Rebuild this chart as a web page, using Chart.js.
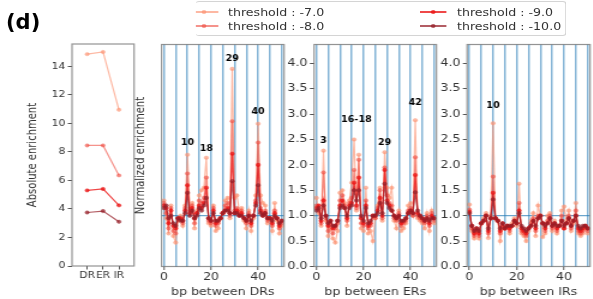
<!DOCTYPE html>
<html><head><meta charset="utf-8">
<script src="https://cdn.jsdelivr.net/npm/chart.js@4.4.1/dist/chart.umd.min.js"></script>
<style>
html,body{margin:0;padding:0;background:#fff;width:593px;height:299px;overflow:hidden;}
#stage{position:absolute;left:0;top:0;width:494px;height:299px;transform:scaleX(1.2);transform-origin:0 0;}
#stage canvas{position:absolute;top:0;}
#tag{position:absolute;left:6px;top:11px;font:bold 21px 'DejaVu Sans';line-height:22px;color:#000;}
#legend{position:absolute;left:163.3px;top:1px;width:308px;height:33px;border:1px solid #d4d4d4;border-left:none;border-radius:3px;background:#fff;font-family:'DejaVu Sans';}
.lg-line{position:absolute;height:1.5px;}
.lg-dot{position:absolute;width:4px;height:4px;border-radius:50%;}
.lg-text{position:absolute;font-size:10.5px;line-height:12px;color:#333;white-space:nowrap;}
</style></head>
<body>
<div id="stage">
  <canvas id="cAbs" width="116" height="299" style="left:0px"></canvas>
  <canvas id="cDR" width="128" height="299" style="left:111px"></canvas>
  <canvas id="cER" width="128" height="299" style="left:238px"></canvas>
  <canvas id="cIR" width="128" height="299" style="left:366px"></canvas>
  <div id="legend"></div>
</div>
<div id="tag">(d)</div>
<script>
// ---------------- data ----------------
const thresholds = ['threshold : -7.0', 'threshold : -8.0', 'threshold : -9.0', 'threshold : -10.0'];
const absCategories = ['DR', 'ER', 'IR'];
const abs_t7  = [14.85, 15.0, 10.95];
const abs_t8  = [8.45, 8.45, 6.35];
const abs_t9  = [5.3, 5.4, 4.25];
const abs_t10 = [3.75, 3.85, 3.1];

const bp = [0,1,2,3,4,5,6,7,8,9,10,11,12,13,14,15,16,17,18,19,20,21,22,23,24,25,26,27,28,29,30,31,32,33,34,35,36,37,38,39,40,41,42,43,44,45,46,47,48,49,50];

const dr_t7  = [1.30,0.95,0.65,1.20,0.60,0.47,0.90,1.00,0.80,1.20, 2.20,1.15,1.25,0.75,1.10,1.40,1.50,1.55,2.14,0.85, 0.80,1.20,0.70,0.75,0.95,1.05,1.30,1.35,0.95,3.89, 1.35,1.40,1.10,1.15,0.90,0.75,1.10,0.70,0.95,1.40, 2.81,1.40,1.25,1.20,0.85,0.95,0.70,1.25,0.90,0.65, 0.80];
const dr_t8  = [1.25,1.05,0.75,1.15,0.70,0.65,0.95,0.95,0.85,1.15, 1.83,1.10,1.20,0.85,1.05,1.30,1.25,1.35,1.75,0.90, 0.85,1.15,0.80,0.85,0.95,1.05,1.20,1.25,1.00,2.86, 1.10,1.15,1.05,1.10,0.95,0.85,1.05,0.80,1.00,1.30, 2.44,1.15,1.05,1.10,0.90,0.95,0.80,1.10,0.95,0.75, 0.85];
const dr_t9  = [1.20,1.15,0.85,1.10,0.80,0.75,0.95,0.95,0.90,1.10, 1.60,1.05,1.15,0.95,1.05,1.20,1.15,1.25,1.55,0.95, 0.90,1.10,0.85,0.90,0.95,1.05,1.10,1.15,1.05,2.22, 1.05,1.10,1.00,1.05,0.95,0.90,1.00,0.85,1.00,1.25, 2.00,1.10,1.00,1.05,0.95,0.95,0.85,1.05,0.95,0.80, 0.90];
const dr_t10 = [1.15,1.20,0.95,1.00,0.85,0.80,0.95,0.90,0.90,1.05, 1.45,1.00,1.10,0.95,1.00,1.15,1.10,1.20,1.35,0.95, 0.90,1.05,0.90,0.90,0.95,1.05,1.10,1.10,1.05,1.68, 1.05,1.05,1.00,1.00,0.95,0.90,1.00,0.90,1.00,1.20, 1.60,1.05,1.00,1.05,0.95,0.95,0.90,1.00,0.95,0.85, 0.90];

const er_t7  = [1.35,1.05,0.80,2.28,0.90,0.60,0.75,0.55,0.47,0.70, 1.45,1.50,1.25,0.80,1.30,1.65,2.50,1.10,2.20,0.75, 0.70,1.55,0.65,0.70,0.50,0.95,1.20,1.55,0.90,2.25, 1.55,1.35,1.55,0.90,0.75,1.10,0.70,0.75,0.85,1.20, 1.25,1.00,2.88,0.95,0.90,0.85,0.75,1.05,0.70,1.10, 0.85];
const er_t8  = [1.20,1.10,0.85,1.85,0.95,0.70,0.85,0.65,0.75,0.85, 1.30,1.40,1.20,0.90,1.25,1.35,1.90,1.15,2.10,0.85, 0.80,1.30,0.75,0.80,1.00,0.95,1.15,1.50,0.95,1.95, 1.40,1.25,1.20,0.95,0.90,1.05,0.80,0.85,0.90,1.10, 1.15,1.00,2.15,1.00,0.95,0.90,0.85,1.00,0.80,1.05, 0.90];
const er_t9  = [1.15,1.20,0.90,1.30,1.00,0.80,0.90,0.75,0.80,0.90, 1.20,1.30,1.15,0.95,1.20,1.25,1.65,1.20,1.75,0.95, 0.85,1.20,0.80,0.85,1.00,1.00,1.10,1.35,1.00,1.90, 1.30,1.20,1.10,1.00,0.95,1.00,0.85,0.90,0.95,1.05, 1.10,1.05,1.80,1.05,1.00,0.95,0.90,0.95,0.85,1.00, 0.95];
const er_t10 = [1.10,1.15,0.95,1.20,1.00,0.85,0.90,0.80,0.80,0.90, 1.15,1.20,1.15,1.00,1.15,1.20,1.50,1.30,1.50,1.00, 0.90,1.15,0.85,0.90,1.00,1.00,1.05,1.25,1.05,1.63, 1.25,1.15,1.10,1.00,0.95,1.00,0.90,0.90,0.95,1.05, 1.10,1.05,1.46,1.10,1.00,0.95,0.90,0.95,0.90,0.95, 0.95];

const ir_t7  = [1.22,0.70,0.55,0.70,0.55,0.85,0.95,1.05,0.56,1.00, 2.82,0.95,0.90,0.50,0.75,0.75,0.80,0.65,0.85,0.95, 0.80,1.63,0.65,0.60,0.50,0.70,0.90,1.05,0.60,1.20, 1.00,0.58,0.65,1.00,1.05,0.70,0.90,0.65,0.80,1.10, 1.18,0.90,1.10,0.70,0.85,1.25,0.65,0.60,0.65,0.75, 0.65];
const ir_t8  = [1.12,0.75,0.60,0.70,0.60,0.85,0.90,1.00,0.65,0.95, 1.77,0.95,0.90,0.65,0.80,0.75,0.80,0.70,0.80,0.90, 0.85,1.25,0.70,0.65,0.60,0.75,0.85,0.95,0.70,1.00, 1.00,0.85,0.70,0.90,1.00,0.75,0.85,0.70,0.80,1.00, 0.75,0.85,1.00,0.75,0.90,1.10,0.70,0.65,0.70,0.80, 0.70];
const ir_t9  = [1.08,0.80,0.65,0.75,0.65,0.85,0.90,1.00,0.70,0.95, 1.45,0.95,0.90,0.70,0.85,0.75,0.80,0.75,0.80,0.90, 0.85,1.10,0.75,0.70,0.65,0.75,0.80,0.90,0.75,0.95, 1.00,0.85,0.75,0.85,0.95,0.80,0.85,0.75,0.80,0.90, 0.75,0.85,0.95,0.80,0.90,1.00,0.75,0.70,0.75,0.80, 0.75];
const ir_t10 = [1.05,0.80,0.70,0.75,0.70,0.85,0.90,1.00,0.75,0.95, 1.32,0.95,0.90,0.75,0.85,0.75,0.80,0.80,0.80,0.90, 0.85,1.05,0.80,0.75,0.70,0.75,0.80,0.90,0.80,0.95, 1.00,0.85,0.80,0.85,0.95,0.80,0.85,0.80,0.80,0.90, 0.80,0.85,0.95,0.80,0.90,1.00,0.80,0.75,0.80,0.80, 0.75];

const refLevel = 1.0;

const drPeakText = ['10', '18', '29', '40'];
const drPeakX = [10, 18, 29, 40];
const drPeakY = [2.44, 2.32, 4.09, 3.05];
const erPeakText = ['3', '16-18', '29', '42'];
const erPeakX = [3, 17, 29, 42];
const erPeakY = [2.48, 2.89, 2.44, 3.23];
const irPeakText = ['10'];
const irPeakX = [10];
const irPeakY = [3.17];

// ---------------- style ----------------
const S = 1.2;
const COLORS = ['rgba(252,146,114,0.65)', 'rgba(239,80,70,0.62)', 'rgba(235,20,20,0.78)', 'rgba(150,30,40,0.72)'];
const FONT = "'DejaVu Sans'";
const TXT = '#333';
Chart.defaults.font.family = FONT;
Chart.defaults.color = TXT;

function pts(xs, ys) { return ys.map((v, i) => ({x: xs[i], y: v})); }
function ds(data, i, r) {
  return {data, borderColor: COLORS[i], backgroundColor: COLORS[i], borderWidth: 1.2,
          pointRadius: r, pointBorderWidth: 0.5, pointHoverRadius: r, order: 4 - i, tension: 0};
}

const framePlugin = {id: 'frame', afterDraw(chart) {
  const a = chart.chartArea, c = chart.ctx;
  c.save(); c.strokeStyle = 'rgba(120,120,120,0.8)'; c.lineWidth = 1.2;
  c.strokeRect(a.left, a.top, a.right - a.left, a.bottom - a.top); c.restore();
}};
function peakPlugin(texts, xs, ys) {
  return {id: 'peaks', afterDatasetsDraw(chart) {
    const c = chart.ctx, sx = chart.scales.x, sy = chart.scales.y;
    c.save();
    c.font = "bold 9.5px " + FONT; c.fillStyle = '#000'; c.textAlign = 'center'; c.textBaseline = 'middle';
    texts.forEach((t, i) => {
      c.save(); c.translate(sx.getPixelForValue(xs[i]), sy.getPixelForValue(ys[i])); c.scale(1 / S, 1);
      c.fillText(t, 0, 0); c.restore();
    });
    c.restore();
  }};
}

// ---------------- left panel ----------------
const absX = absCategories.map((_, i) => i);
new Chart(document.getElementById('cAbs'), {
  type: 'line',
  data: {datasets: [ds(pts(absX, abs_t7), 0, 1.7), ds(pts(absX, abs_t8), 1, 1.7), ds(pts(absX, abs_t9), 2, 1.7), ds(pts(absX, abs_t10), 3, 1.7)]},
  options: {
    responsive: false, animation: false, events: [],
    layout: {padding: {left: 21.5, top: 44, right: 4.3, bottom: 0}},
    plugins: {legend: {display: false}, tooltip: {enabled: false}},
    scales: {
      x: {type: 'linear', min: -0.95, max: 2.95,
          afterFit(s) { s.height = 33; },
          ticks: {stepSize: 1, includeBounds: false, autoSkip: false, maxRotation: 0, padding: 1,
                  font: {size: 9}, color: TXT, callback: v => absCategories[v] || ''},
          grid: {drawOnChartArea: false, tickLength: 3.5, color: '#555'}, border: {display: false}},
      y: {min: 0, max: 15.56,
          afterFit(s) { s.width = 38.5; },
          ticks: {stepSize: 2, includeBounds: false, padding: 2, font: {size: 9}, color: TXT},
          grid: {drawOnChartArea: false, tickLength: 3.5, color: '#555'}, border: {display: false},
          title: {display: true, text: 'Absolute enrichment', font: {size: 10}, color: TXT, padding: {top: 0, bottom: 0}}}
    }
  },
  plugins: [framePlugin]
});

// ---------------- normalized panels ----------------
function makePanel(id, xTitle, series, peaks, showY, yWidth, padRight) {
  const datasets = series.map((s, i) => ds(pts(bp, s), i, 1.8));
  datasets.push({data: [{x: -1, y: refLevel}, {x: 51, y: refLevel}], borderColor: 'rgba(31,119,180,0.9)',
                 borderWidth: 0.9, pointRadius: 0, order: 10});
  new Chart(document.getElementById(id), {
    type: 'line',
    data: {datasets},
    options: {
      responsive: false, animation: false, events: [],
      layout: {padding: {left: 0, top: 44.5, right: padRight, bottom: 0}},
      plugins: {legend: {display: false}, tooltip: {enabled: false}},
      scales: {
        x: {type: 'linear', min: -1, max: 51,
            afterFit(s) { s.height = 32.5; },
            ticks: {stepSize: 5, includeBounds: false, autoSkip: false, maxRotation: 0, padding: 1,
                    font: {size: 10.5}, color: TXT, callback: v => (v % 20 === 0 ? String(v) : '')},
            grid: {color: 'rgba(31,119,180,0.55)', lineWidth: 1.5, tickLength: 3.5, tickWidth: 1,
                   tickColor: c => (c.tick && c.tick.value % 20 === 0) ? '#555' : 'rgba(0,0,0,0)'},
            border: {display: false},
            title: {display: true, text: xTitle, font: {size: 10.5}, color: TXT, padding: {top: 0, bottom: 0}}},
        y: {min: 0, max: 4.37,
            afterFit(s) { s.width = yWidth; },
            ticks: {display: showY, stepSize: 0.5, includeBounds: false, padding: 2, font: {size: 10.5}, color: TXT,
                    callback: v => v.toFixed(1)},
            grid: {display: showY, drawOnChartArea: false, tickLength: 3.5, color: '#555'},
            border: {display: false},
            title: {display: !showY, text: 'Normalized enrichment', font: {size: 10}, color: TXT, padding: {top: 0, bottom: 0}}}
      }
    },
    plugins: [framePlugin, peakPlugin(peaks[0], peaks[1], peaks[2])]
  });
}
makePanel('cDR', 'bp between DRs', [dr_t7, dr_t8, dr_t9, dr_t10], [drPeakText, drPeakX, drPeakY], false, 23.6, 1.1);
makePanel('cER', 'bp between ERs', [er_t7, er_t8, er_t9, er_t10], [erPeakText, erPeakX, erPeakY], true, 23.7, 1.0);
makePanel('cIR', 'bp between IRs', [ir_t7, ir_t8, ir_t9, ir_t10], [irPeakText, irPeakX, irPeakY], true, 23.2, 1.5);

// ---------------- legend ----------------
const lg = document.getElementById('legend');
const cols = [{line: 0, w: 18.4, dot: 7.1, text: 26.7}, {line: 186.7, w: 22.5, dot: 198, text: 217.5}];
const rowsY = [10, 24];
thresholds.forEach((t, i) => {
  const col = cols[Math.floor(i / 2)], y = rowsY[i % 2];
  const l = document.createElement('div'); l.className = 'lg-line';
  l.style.cssText = `left:${col.line}px;width:${col.w}px;top:${y - 0.75}px;background:${COLORS[i]}`;
  const d = document.createElement('div'); d.className = 'lg-dot';
  d.style.cssText = `left:${col.dot - 2}px;top:${y - 2}px;background:${COLORS[i]}`;
  const tx = document.createElement('div'); tx.className = 'lg-text';
  tx.style.cssText = `left:${col.text}px;top:${y - 6}px`; tx.textContent = t;
  lg.appendChild(l); lg.appendChild(d); lg.appendChild(tx);
});
</script>
</body></html>
